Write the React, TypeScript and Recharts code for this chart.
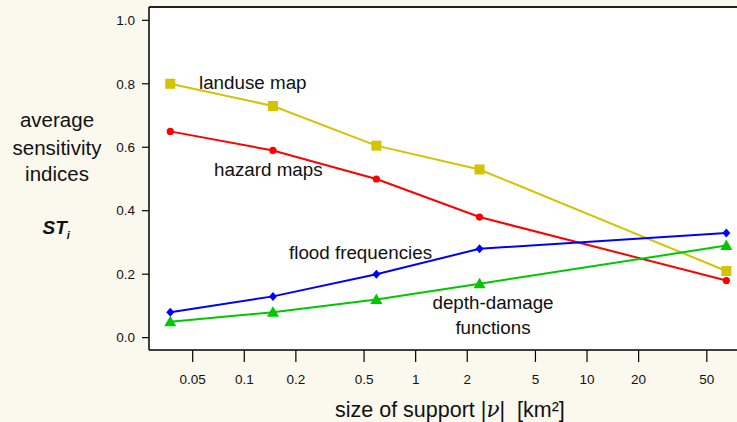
import React from "react";
import {
  LineChart,
  Line,
  XAxis,
  YAxis,
  CartesianGrid,
  ReferenceLine,
} from "recharts";

// ---- data ----
const supportSizes = [0.037, 0.147, 0.59, 2.36, 65];
const landuseMap = [0.8, 0.73, 0.605, 0.53, 0.21];
const hazardMaps = [0.65, 0.59, 0.5, 0.38, 0.18];
const floodFrequencies = [0.08, 0.13, 0.2, 0.28, 0.33];
const depthDamage = [0.05, 0.08, 0.12, 0.17, 0.29];
const xTicks = [0.05, 0.1, 0.2, 0.5, 1, 2, 5, 10, 20, 50];
const yTicks = [0, 0.2, 0.4, 0.6, 0.8, 1.0];

const X_DOMAIN: [number, number] = [0.0278, 75];
const Y_DOMAIN: [number, number] = [-0.039, 1.042];

const tableData = supportSizes.map((x, i) => ({
  x,
  landuse: landuseMap[i],
  hazard: hazardMaps[i],
  flood: floodFrequencies[i],
  depth: depthDamage[i],
}));

const FONT = "'Liberation Sans', Arial, Helvetica, sans-serif";
const YELLOW = "#d4c300";
const RED = "#ff0000";
const BLUE = "#0000ff";
const GREEN = "#00c800";

const SquareDot = (p: any) => (
  <rect key={p.key ?? `sq-${p.index}`} x={p.cx - 5} y={p.cy - 5} width={10} height={10} fill={YELLOW} />
);
const CircleDot = (p: any) => (
  <circle key={p.key ?? `ci-${p.index}`} cx={p.cx} cy={p.cy} r={3.6} fill={RED} />
);
const DiamondDot = (p: any) => (
  <polygon
    key={p.key ?? `di-${p.index}`}
    points={`${p.cx},${p.cy - 4.5} ${p.cx + 4},${p.cy} ${p.cx},${p.cy + 4.5} ${p.cx - 4},${p.cy}`}
    fill={BLUE}
  />
);
const TriangleDot = (p: any) => (
  <polygon
    key={p.key ?? `tr-${p.index}`}
    points={`${p.cx},${p.cy - 6} ${p.cx + 6},${p.cy + 4.5} ${p.cx - 6},${p.cy + 4.5}`}
    fill={GREEN}
  />
);

export default function App() {
  return (
    <div
      style={{
        position: "absolute",
        left: 0,
        top: 0,
        width: 737,
        height: 422,
        background: "#fbf8ee",
        overflow: "hidden",
        fontFamily: FONT,
      }}
    >
      <LineChart
        width={737}
        height={422}
        data={tableData}
        margin={{ top: 7, right: 0, left: 0, bottom: 0 }}
      >
        <CartesianGrid horizontal={false} vertical={false} fill="#ffffff" />
        <XAxis
          dataKey="x"
          type="number"
          scale="log"
          domain={X_DOMAIN}
          allowDataOverflow
          ticks={xTicks}
          tickFormatter={(v: number) => String(v)}
          height={72}
          tickSize={12}
          tickMargin={12}
          axisLine={{ stroke: "#000", strokeWidth: 1.5 }}
          tickLine={{ stroke: "#000", strokeWidth: 1.2 }}
          tick={{ fill: "#111", fontSize: 13.5, fontFamily: FONT }}
        />
        <YAxis
          type="number"
          domain={Y_DOMAIN}
          allowDataOverflow
          ticks={yTicks}
          tickFormatter={(v: number) => v.toFixed(1)}
          width={149}
          tickSize={7}
          tickMargin={7}
          axisLine={{ stroke: "#000", strokeWidth: 1.5 }}
          tickLine={{ stroke: "#000", strokeWidth: 1.2 }}
          tick={{ fill: "#111", fontSize: 13.5, fontFamily: FONT }}
        />
        <ReferenceLine y={Y_DOMAIN[1]} stroke="#222" strokeWidth={2} ifOverflow="visible" />
        <Line dataKey="landuse" stroke={YELLOW} strokeWidth={2} dot={SquareDot} isAnimationActive={false} />
        <Line dataKey="hazard" stroke={RED} strokeWidth={2} dot={CircleDot} isAnimationActive={false} />
        <Line dataKey="flood" stroke={BLUE} strokeWidth={2} dot={DiamondDot} isAnimationActive={false} />
        <Line dataKey="depth" stroke={GREEN} strokeWidth={2} dot={TriangleDot} isAnimationActive={false} />
      </LineChart>
      <svg
        width={737}
        height={422}
        style={{ position: "absolute", left: 0, top: 0, pointerEvents: "none" }}
        fontFamily={FONT}
      >
        <g fontSize={18.8} fill="#111">
          <text x={199} y={89}>landuse map</text>
          <text x={214} y={176}>hazard maps</text>
          <text x={289} y={259}>flood frequencies</text>
          <text x={493} y={309} textAnchor="middle">depth-damage</text>
          <text x={493} y={334} textAnchor="middle">functions</text>
        </g>
        <g fontSize={20.5} fill="#111" textAnchor="middle">
          <text x={57} y={127}>average</text>
          <text x={57} y={155}>sensitivity</text>
          <text x={57} y={181}>indices</text>
        </g>
        <text x={42.5} y={234.3} fontSize={19} fontWeight="bold" fontStyle="italic" fill="#111">
          ST
          <tspan fontSize={11} dy={5}>i</tspan>
        </text>
        <text x={335} y={416.5} fontSize={21.5} fill="#111">
          size of support |<tspan fontStyle="italic" fontFamily="'DejaVu Serif', serif">ν</tspan>|{"\u00a0\u00a0"}[km²]
        </text>
      </svg>
    </div>
  );
}
